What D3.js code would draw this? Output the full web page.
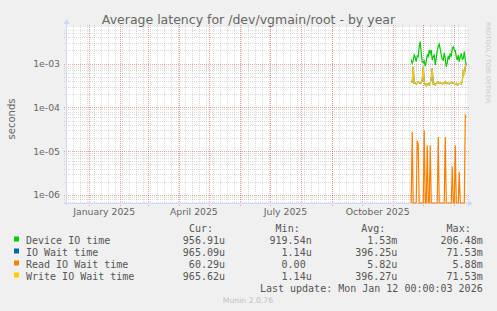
<!DOCTYPE html>
<html>
<head>
<meta charset="utf-8">
<script src="https://cdn.jsdelivr.net/npm/d3@7"></script>
<style>
  body { margin: 0; background: #f0f0f0; }
  text { font-family: "DejaVu Sans", sans-serif; fill: #666; }
  .mono { font-family: "DejaVu Sans Mono", monospace; font-size: 10px; fill: #555; }
</style>
</head>
<body>
<svg id="chart" width="497" height="311"></svg>
<script>
// daily averages, first sample on 19 Nov 2025
const firstDay = Date.UTC(2025, 10, 19)

const deviceIO = [1.26e-3, 1.02e-3, 1.17e-3, 1.58e-3, 1.40e-3, 1.11e-3, 1.50e-3, 1.45e-3, 2.44e-3, 3.18e-3,
    1.78e-3, 1.11e-3, 1.06e-3, 1.17e-3, 0.885e-3, 1.11e-3, 1.58e-3, 1.45e-3, 2.05e-3, 1.72e-3,
    2.05e-3, 1.21e-3, 1.45e-3, 1.58e-3, 0.93e-3, 1.32e-3, 1.98e-3, 2.50e-3, 2.81e-3, 2.12e-3,
    1.58e-3, 1.26e-3, 1.21e-3, 1.78e-3, 1.32e-3, 0.85e-3, 1.06e-3, 1.50e-3, 1.26e-3, 1.72e-3,
    1.45e-3, 2.24e-3, 2.44e-3, 2.05e-3, 1.98e-3, 1.45e-3, 1.21e-3, 1.58e-3, 1.11e-3, 1.45e-3,
    1.72e-3, 1.26e-3, 1.32e-3, 1.88e-3, 1.17e-3, 0.96e-3]

const ioWait = [0.388e-3, 0.380e-3, 0.85e-3, 0.356e-3, 0.368e-3, 0.343e-3, 0.356e-3, 0.388e-3, 0.368e-3, 0.356e-3,
    0.368e-3, 0.424e-3, 0.85e-3, 0.388e-3, 0.326e-3, 0.309e-3, 0.343e-3, 0.356e-3, 0.326e-3, 0.356e-3,
    0.463e-3, 0.78e-3, 0.343e-3, 0.356e-3, 0.326e-3, 0.356e-3, 0.368e-3, 0.388e-3, 0.356e-3, 0.368e-3,
    0.356e-3, 0.343e-3, 0.368e-3, 0.356e-3, 0.388e-3, 0.356e-3, 0.368e-3, 0.356e-3, 0.343e-3, 0.368e-3,
    0.375e-3, 0.356e-3, 0.368e-3, 0.356e-3, 0.343e-3, 0.356e-3, 0.326e-3, 0.343e-3, 0.356e-3, 0.356e-3,
    0.343e-3, 0.388e-3, 0.72e-3, 0.55e-3, 0.85e-3, 0.965e-3]

const readIO = [0, 2.8e-5, 0, 0, 0, 0, 1.75e-5, 1.45e-5, 0, 0,
    0, 0, 0, 3.0e-5, 0, 0, 1.37e-5, 0, 0, 1.37e-5,
    0, 0, 0, 0, 0, 0, 0, 2.1e-5, 0, 0,
    0, 0, 0, 0, 2.1e-5, 0, 0, 0, 0, 0,
    0, 4.5e-6, 0, 0, 1.37e-5, 0, 0, 0, 3.4e-6, 0,
    0, 0, 0, 0, 6.5e-5, 6.0e-5]

const writeIO = [0.388e-3, 0.380e-3, 0.85e-3, 0.356e-3, 0.368e-3, 0.343e-3, 0.356e-3, 0.388e-3, 0.368e-3, 0.356e-3,
    0.368e-3, 0.424e-3, 0.85e-3, 0.388e-3, 0.326e-3, 0.309e-3, 0.343e-3, 0.356e-3, 0.326e-3, 0.356e-3,
    0.463e-3, 0.78e-3, 0.343e-3, 0.356e-3, 0.326e-3, 0.356e-3, 0.368e-3, 0.388e-3, 0.356e-3, 0.368e-3,
    0.356e-3, 0.343e-3, 0.368e-3, 0.356e-3, 0.388e-3, 0.356e-3, 0.368e-3, 0.356e-3, 0.343e-3, 0.368e-3,
    0.375e-3, 0.356e-3, 0.368e-3, 0.356e-3, 0.343e-3, 0.356e-3, 0.326e-3, 0.343e-3, 0.356e-3, 0.356e-3,
    0.343e-3, 0.388e-3, 0.72e-3, 0.55e-3, 0.85e-3, 0.966e-3]

const yTicks = [1e-3, 1e-4, 1e-5, 1e-6]
const yTickLabels = ["1e-03", "1e-04", "1e-05", "1e-06"]
const xLabelMonths = [Date.UTC(2025, 0, 1), Date.UTC(2025, 3, 1), Date.UTC(2025, 6, 1), Date.UTC(2025, 9, 1)]
const xLabelTexts = ["January 2025", "April 2025", "July 2025", "October 2025"]

const seriesNames = ["Device IO time", "IO Wait time", "Read IO Wait time", "Write IO Wait time"]
const seriesColors = ["#00cc00", "#0066b3", "#ff8000", "#ffcc00"]
const curValues = ["956.91u", "965.09u", " 60.29u", "965.62u"]
const minValues = ["919.54n", "  1.14u", "  0.00 ", "  1.14u"]
const avgValues = ["  1.53m", "396.25u", "  5.82u", "396.27u"]
const maxValues = ["206.48m", " 71.53m", "  5.88m", " 71.53m"]
const colHeaders = ["Cur:", "Min:", "Avg:", "Max:"]

const svg = d3.select("#chart")
const W = 497, H = 311
const plot = { left: 67, right: 467, top: 27, bottom: 203 }

svg.append("rect").attr("width", W).attr("height", H).attr("fill", "#f0f0f0")
svg.append("rect")
    .attr("x", plot.left).attr("y", plot.top)
    .attr("width", plot.right - plot.left).attr("height", plot.bottom - plot.top)
    .attr("fill", "#fff")

const x = d3.scaleUtc()
    .domain([Date.UTC(2024, 11, 10, 8), Date.UTC(2026, 0, 13, 17)])
    .range([plot.left, plot.right])

const y = d3.scaleLog()
    .domain([6.57e-7, 6.88e-3])
    .range([plot.bottom, plot.top])
    .clamp(true)

const yOf = v => v > 0 ? y(v) : plot.bottom
const crisp = v => Math.round(v) + 0.5

// grid
const grid = svg.append("g")
const minorColor = "rgba(140,140,140,0.3)"
const majorColor = "rgba(200,60,60,0.45)"

const minorY = []
for (let e = -7; e <= -2; e++) {
    for (let k = 2; k <= 9; k++) {
        const v = k * Math.pow(10, e)
        if (v > y.domain()[0] && v < y.domain()[1]) minorY.push(v)
    }
}
grid.selectAll(".minor-y").data(minorY).join("line")
    .attr("x1", plot.left - 3).attr("x2", plot.right + 2)
    .attr("y1", d => crisp(y(d))).attr("y2", d => crisp(y(d)))
    .attr("stroke", minorColor).attr("stroke-dasharray", "1,1")

const mondays = d3.utcMonday.range(x.domain()[0], x.domain()[1])
grid.selectAll(".minor-x").data(mondays).join("line")
    .attr("x1", d => crisp(x(d))).attr("x2", d => crisp(x(d)))
    .attr("y1", plot.top - 2).attr("y2", plot.bottom + 2)
    .attr("stroke", minorColor).attr("stroke-dasharray", "1,1")

grid.selectAll(".major-y").data(yTicks).join("line")
    .attr("x1", plot.left - 3).attr("x2", plot.right + 2)
    .attr("y1", d => crisp(y(d))).attr("y2", d => crisp(y(d)))
    .attr("stroke", majorColor).attr("stroke-dasharray", "1,1")

const months = d3.utcMonth.range(x.domain()[0], x.domain()[1])
grid.selectAll(".major-x").data(months).join("line")
    .attr("x1", d => crisp(x(d))).attr("x2", d => crisp(x(d)))
    .attr("y1", plot.top - 2).attr("y2", plot.bottom + 3)
    .attr("stroke", majorColor).attr("stroke-dasharray", "1,1")

// axis lines + arrows
const axisColor = "#cfd6f8"
svg.append("line").attr("x1", plot.left - 0.5).attr("x2", plot.left - 0.5)
    .attr("y1", plot.bottom + 2).attr("y2", plot.top - 6)
    .attr("stroke", axisColor)
svg.append("line").attr("x1", plot.left - 3).attr("x2", plot.right + 4)
    .attr("y1", plot.bottom + 0.5).attr("y2", plot.bottom + 0.5)
    .attr("stroke", axisColor)
svg.append("path")
    .attr("d", `M${plot.left - 3.5},${plot.top - 3} L${plot.left + 2.5},${plot.top - 3} L${plot.left - 0.5},${plot.top - 8} Z`)
    .attr("fill", axisColor)
svg.append("path")
    .attr("d", `M${plot.right + 1},${plot.bottom - 2.5} L${plot.right + 1},${plot.bottom + 3.5} L${plot.right + 6},${plot.bottom + 0.5} Z`)
    .attr("fill", axisColor)

// tick labels
svg.selectAll(".ylab").data(yTicks).join("text")
    .attr("x", 60).attr("y", d => y(d) + 3.4)
    .attr("text-anchor", "end").attr("font-size", "9.3px")
    .text((d, i) => yTickLabels[i])

svg.selectAll(".xlab").data(xLabelMonths).join("text")
    .attr("x", d => x(new Date((d + d3.utcMonth.offset(new Date(d), 1).getTime()) / 2)))
    .attr("y", 215)
    .attr("text-anchor", "middle").attr("font-size", "9.3px")
    .text((d, i) => xLabelTexts[i])

// title and side texts
svg.append("text").attr("x", 248.5).attr("y", 23.5)
    .attr("text-anchor", "middle").attr("font-size", "12.5px")
    .text("Average latency for /dev/vgmain/root - by year")

svg.append("text").attr("transform", "translate(14.5,119) rotate(-90)")
    .attr("text-anchor", "middle").attr("font-size", "10px")
    .text("seconds")

svg.append("text").attr("transform", "translate(485.5,22) rotate(90)")
    .attr("font-size", "6.3px").style("fill", "#c8c8c8")
    .text("RRDTOOL / TOBI OETIKER")

svg.append("text").attr("x", 248).attr("y", 303)
    .attr("text-anchor", "middle").attr("font-size", "7.7px").style("fill", "#c0c0c0")
    .text("Munin 2.0.76")

// series
const series = [deviceIO, ioWait, readIO, writeIO]
const day = 86400000
const line = d3.line()
    .x((d, i) => x(new Date(firstDay + i * day)))
    .y(d => yOf(d))

svg.append("clipPath").attr("id", "clip").append("rect")
    .attr("x", plot.left).attr("y", plot.top)
    .attr("width", plot.right - plot.left).attr("height", plot.bottom - plot.top + 1)

svg.append("g").attr("clip-path", "url(#clip)")
    .selectAll("path").data(series).join("path")
    .attr("d", d => line(d))
    .attr("fill", "none")
    .attr("stroke", (d, i) => seriesColors[i])
    .attr("stroke-width", 1.2)

// legend
const legend = svg.append("g")
const rowY = [243.5, 255.5, 267.5, 279.5]
const colRight = [225, 311.7, 397.3, 482.7]

legend.selectAll(".hdr").data(colHeaders).join("text")
    .attr("class", "mono").attr("text-anchor", "end")
    .attr("x", (d, i) => colRight[i] - 12).attr("y", 231.5)
    .text(d => d)

seriesNames.forEach((name, i) => {
    legend.append("rect").attr("x", 14).attr("y", rowY[i] - 7)
        .attr("width", 5).attr("height", 5).attr("fill", seriesColors[i])
    legend.append("text").attr("class", "mono").attr("x", 26).attr("y", rowY[i]).text(name)
    const vals = [curValues[i], minValues[i], avgValues[i], maxValues[i]]
    vals.forEach((v, j) => {
        legend.append("text").attr("class", "mono")
            .attr("xml:space", "preserve")
            .attr("text-anchor", "end")
            .attr("x", colRight[j]).attr("y", rowY[i])
            .text(v)
    })
})

legend.append("text").attr("class", "mono").attr("text-anchor", "end")
    .attr("x", 482.7).attr("y", 291.5)
    .text("Last update: Mon Jan 12 00:00:03 2026")
</script>
</body>
</html>
